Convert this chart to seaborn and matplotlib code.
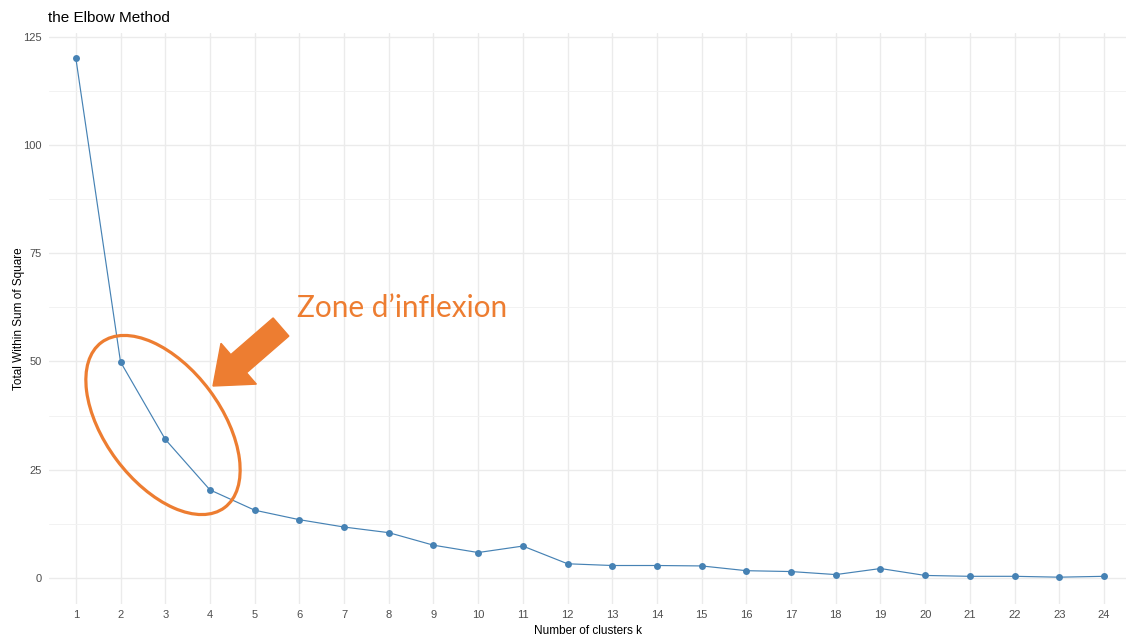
import matplotlib
matplotlib.use("Agg")
import matplotlib.pyplot as plt
import matplotlib.patches as mpatches
from matplotlib.transforms import IdentityTransform
import seaborn as sns
import pandas as pd
import numpy as np

k = list(range(1, 25))
wss = [120.2, 49.9, 32.0, 20.3, 15.6, 13.4, 11.7, 10.4, 7.5, 5.8, 7.3, 3.2,
       2.8, 2.8, 2.7, 1.6, 1.4, 0.7, 2.1, 0.5, 0.3, 0.3, 0.1, 0.3]
y_ticks = [0, 25, 50, 75, 100, 125]

df = pd.DataFrame({"k": k, "wss": wss})

sns.set_style("white")
plt.rcParams['font.family'] = ['Liberation Sans', 'DejaVu Sans']

W, H = 1126, 637
fig = plt.figure(figsize=(W / 100, H / 100), dpi=100)
ax = fig.add_axes([49 / W, 1 - 603.5 / H, (W - 49) / W, (603.5 - 33) / H])

sns.lineplot(data=df, x="k", y="wss", ax=ax, color="#4682B4", linewidth=0.85,
             marker="o", markersize=5, markeredgewidth=0, zorder=3)

ax.set_xlim(0.4, 24 + (W - 1104) / ((1104 - 75) / 23))
ax.set_ylim(-5.99, 126)
ax.set_xticks(k)
ax.set_xticklabels([str(v) for v in k])
ax.set_yticks(y_ticks)
ax.set_yticks([12.5, 37.5, 62.5, 87.5, 112.5], minor=True)
ax.grid(True, which="major", color="#ebebeb", linewidth=1.0)
ax.grid(True, which="minor", color="#f2f2f2", linewidth=0.7)
ax.set_axisbelow(True)
for s in ax.spines.values():
    s.set_visible(False)
ax.tick_params(axis="both", which="both", length=0, labelsize=8,
               labelcolor="#4d4d4d", pad=5)
ax.set_xlabel("Number of clusters k", fontsize=8.5, color="black", labelpad=3)
ax.set_ylabel("Total Within Sum of Square", fontsize=8.5, color="black", labelpad=-1)
fig.text(48 / W, 1 - 18 / H, "the Elbow Method", fontsize=11, color="black",
         ha="left", va="center")

orange = "#ED7D31"
idt = IdentityTransform()
ell = mpatches.Ellipse((163, H - 425), width=206, height=116, angle=-53.3,
                       fill=False, edgecolor=orange, linewidth=2.3,
                       transform=idt, zorder=5)
fig.patches.append(ell)

x0, y0 = 281, H - 327
x1, y1 = 213, H - 386
arr = mpatches.FancyArrow(x0, y0, x1 - x0, y1 - y0, width=24, head_width=54,
                          head_length=34, length_includes_head=True,
                          color=orange, transform=idt, zorder=5)
fig.patches.append(arr)

fig.text(297 / W, 1 - 308 / H, "Zone d\u2019inflexion", fontsize=21.4,
         color=orange, ha="left", va="center", family=["Lato", "DejaVu Sans"])

fig.savefig("out.png", dpi=100)
